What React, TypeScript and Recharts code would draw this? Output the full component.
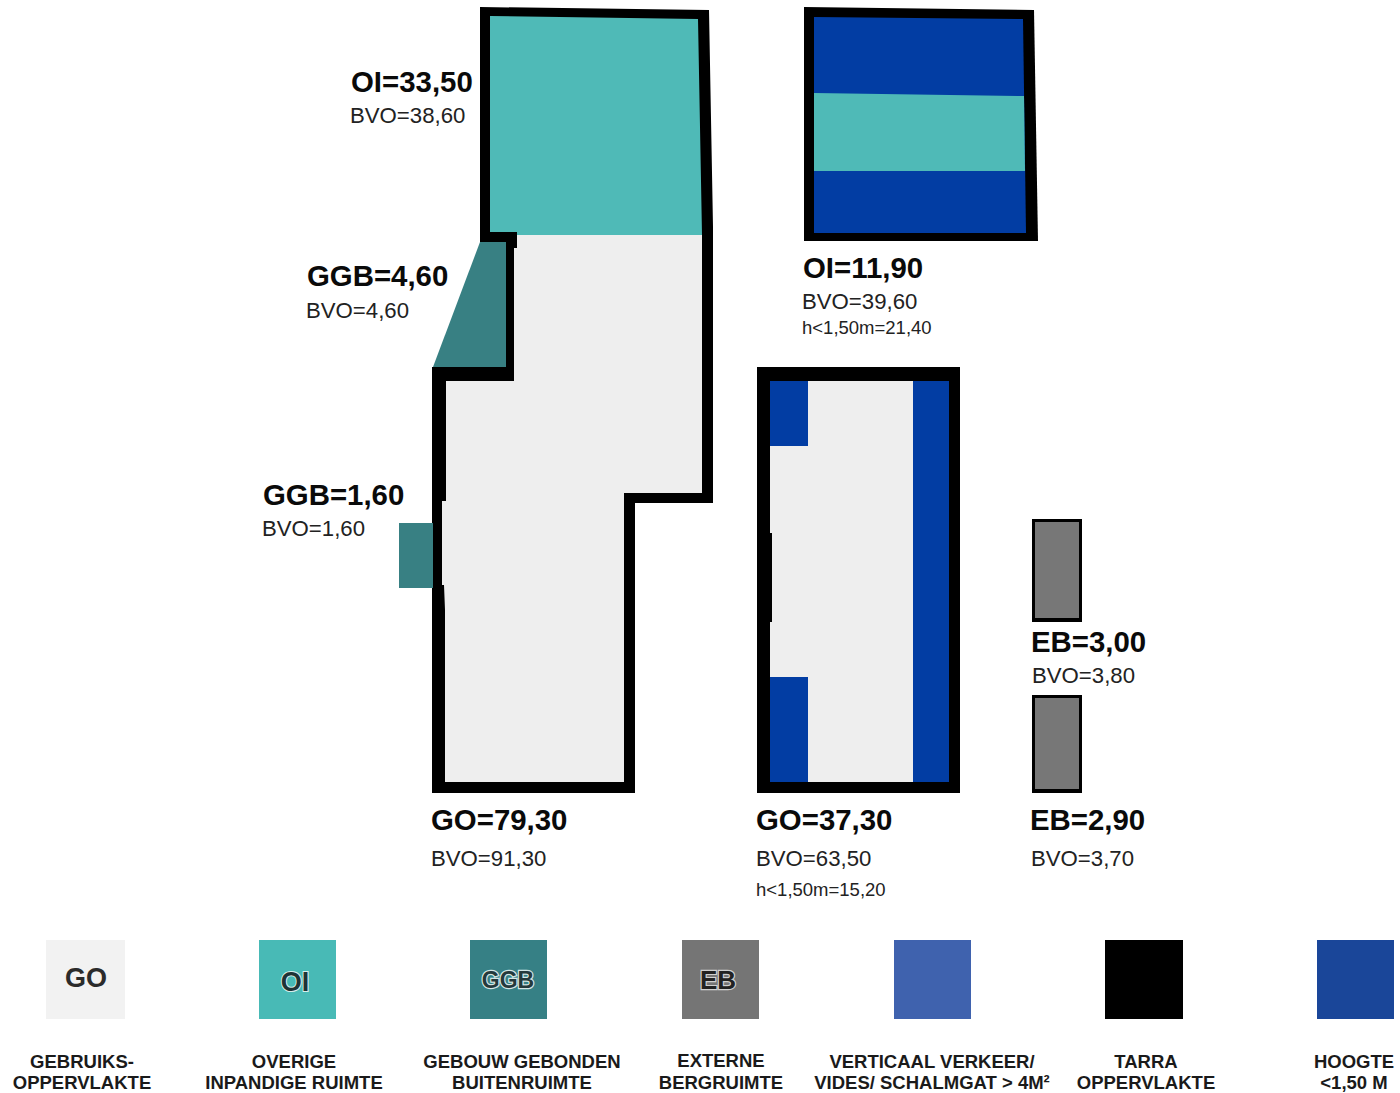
import { Scatter, ScatterChart, XAxis, YAxis } from "recharts";

type Pt = { x: number; y: number };
type Lbl = Pt & { text: string };

const pts = (list: number[][]): Pt[] => list.map(([x, y]) => ({ x, y }));
const box = (x0: number, y0: number, x1: number, y1: number) =>
  pts([[x0, y0], [x1, y0], [x1, y1], [x0, y1]]);

// plattegrond links
const wallMain = pts([[480, 7], [709, 10], [713, 227], [713, 503], [635, 503], [635, 793], [432, 793], [432, 367], [506, 367], [506, 242], [480, 242]]);
const floorMain = pts([[517, 235], [702, 235], [702, 493], [624, 493], [624, 782], [445, 782], [445, 610], [444, 585], [442, 585], [442, 501], [446, 501], [446, 381], [514, 381], [514, 248], [517, 248]]);
const oiMain = pts([[490, 16], [698, 19], [702, 235], [517, 235], [517, 232], [490, 232]]);
const ggbTop = pts([[480, 242], [506, 242], [506, 367], [433, 367]]);
const ggbSide = box(399, 523, 433, 588);

// zolder rechtsboven
const wallAttic = pts([[804, 7], [1034, 10], [1038, 241], [804, 241]]);
const lowAttic = pts([[814, 17], [1023, 19], [1026, 233], [814, 233]]);
const oiAttic = pts([[814, 93], [1024, 96], [1025, 171], [814, 171]]);

// verdieping rechts
const wallFloor = pts([[757, 367], [960, 367], [960, 793], [757, 793]]);
const floorFloor = pts([[770, 381], [949, 381], [949, 782], [770, 782], [770, 622], [772, 622], [772, 533], [770, 533]]);
const lowFloor = [box(770, 381, 808, 446), box(770, 677, 808, 782), box(913, 381, 949, 782)];

// bergingen
const wallStore = [box(1032, 519, 1082, 622), box(1032, 695, 1082, 793)];
const storeFill = [box(1035, 522, 1079, 618), box(1035, 698, 1079, 789)];

const headLabels: Lbl[] = [
  { x: 351, y: 92, text: "OI=33,50" },
  { x: 307, y: 286, text: "GGB=4,60" },
  { x: 263, y: 505, text: "GGB=1,60" },
  { x: 431, y: 830, text: "GO=79,30" },
  { x: 803, y: 278, text: "OI=11,90" },
  { x: 756, y: 830, text: "GO=37,30" },
  { x: 1031, y: 652, text: "EB=3,00" },
  { x: 1030, y: 830, text: "EB=2,90" },
];
const bvoLabels: Lbl[] = [
  { x: 350, y: 123, text: "BVO=38,60" },
  { x: 306, y: 318, text: "BVO=4,60" },
  { x: 262, y: 536, text: "BVO=1,60" },
  { x: 431, y: 866, text: "BVO=91,30" },
  { x: 802, y: 309, text: "BVO=39,60" },
  { x: 756, y: 866, text: "BVO=63,50" },
  { x: 1032, y: 683, text: "BVO=3,80" },
  { x: 1031, y: 866, text: "BVO=3,70" },
];
const lowLabels: Lbl[] = [
  { x: 802, y: 334, text: "h<1,50m=21,40" },
  { x: 756, y: 896, text: "h<1,50m=15,20" },
];

// legenda
const legendFill = ["#f2f2f2", "#48bab6", "#368085", "#757575", "#3f62ae", "#000000", "#1a4699"];
const legendLeft = [46, 259, 470, 682, 894, 1105, 1317];
const legendRight = [125, 336, 547, 759, 971, 1183, 1394];
const legendTop = 940;
const legendBottom = 1019;
const legendCodes: Lbl[] = [
  { x: 86, y: 987, text: "GO" },
  { x: 295, y: 991, text: "OI" },
  { x: 508, y: 988, text: "GGB" },
  { x: 718, y: 989, text: "EB" },
];
const legendLine1: Lbl[] = [
  { x: 82, y: 1068, text: "GEBRUIKS-" },
  { x: 294, y: 1068, text: "OVERIGE" },
  { x: 522, y: 1068, text: "GEBOUW GEBONDEN" },
  { x: 721, y: 1067, text: "EXTERNE" },
  { x: 932, y: 1068, text: "VERTICAAL VERKEER/" },
  { x: 1146, y: 1068, text: "TARRA" },
  { x: 1354, y: 1068, text: "HOOGTE" },
];
const legendLine2: Lbl[] = [
  { x: 82, y: 1089, text: "OPPERVLAKTE" },
  { x: 294, y: 1089, text: "INPANDIGE RUIMTE" },
  { x: 522, y: 1089, text: "BUITENRUIMTE" },
  { x: 721, y: 1089, text: "BERGRUIMTE" },
  { x: 932, y: 1089, text: "VIDES/ SCHALMGAT > 4M²" },
  { x: 1146, y: 1089, text: "OPPERVLAKTE" },
  { x: 1354, y: 1089, text: "<1,50 M" },
];

const BLACK = "#000000";
const FLOOR = "#eeeeee";
const TEAL = "#4fbab7";
const DARK_TEAL = "#388083";
const BLUE = "#023da3";
const GREY = "#777777";
const FONT = "'Liberation Sans', Arial, sans-serif";

const poly = (data: Pt[], fill: string, key: string) => (
  <Scatter
    key={key}
    data={data}
    fill={fill}
    isAnimationActive={false}
    shape={() => <g />}
    line={{ fill, stroke: "none" }}
  />
);

const labels = (data: Lbl[], key: string, style: any) => (
  <Scatter
    key={key}
    data={data}
    isAnimationActive={false}
    shape={(p: any) => (
      <text x={p.cx} y={p.cy} fontFamily={FONT} {...style}>
        {p.payload.text}
      </text>
    )}
  />
);

const HEAD = { fontSize: 29.4, fontWeight: 700, fill: "#0a0a0a" };
const BVO = { fontSize: 22.2, fill: "#222222" };
const LOW = { fontSize: 18.5, fill: "#222222" };
const CAPTION = { fontSize: 18.5, fontWeight: 700, fill: "#1a1a1a", textAnchor: "middle" };

export default function App() {
  return (
    <div style={{ position: "absolute", left: 0, top: 0, width: 1400, height: 1093, background: "#fff" }}>
      <ScatterChart width={1400} height={1093} margin={{ top: 0, right: 0, bottom: 0, left: 0 }}>
        <XAxis type="number" dataKey="x" domain={[0, 1400]} hide />
        <YAxis type="number" dataKey="y" domain={[0, 1093]} reversed hide />

        {poly(wallMain, BLACK, "wallMain")}
        {poly(floorMain, FLOOR, "floorMain")}
        {poly(oiMain, TEAL, "oiMain")}
        {poly(ggbTop, DARK_TEAL, "ggbTop")}
        {poly(ggbSide, DARK_TEAL, "ggbSide")}

        {poly(wallAttic, BLACK, "wallAttic")}
        {poly(lowAttic, BLUE, "lowAttic")}
        {poly(oiAttic, TEAL, "oiAttic")}

        {poly(wallFloor, BLACK, "wallFloor")}
        {poly(floorFloor, FLOOR, "floorFloor")}
        {lowFloor.map((b, i) => poly(b, BLUE, `low${i}`))}

        {wallStore.map((b, i) => poly(b, BLACK, `wallStore${i}`))}
        {storeFill.map((b, i) => poly(b, GREY, `store${i}`))}

        {legendFill.map((c, i) =>
          poly(box(legendLeft[i], legendTop, legendRight[i], legendBottom), c, `legend${i}`)
        )}

        {labels(headLabels, "head", HEAD)}
        {labels(bvoLabels, "bvo", BVO)}
        {labels(lowLabels, "low", LOW)}
        {labels(legendLine1, "line1", CAPTION)}
        {labels(legendLine2, "line2", CAPTION)}

        {labels(legendCodes.slice(0, 1), "codeGo", { fontSize: 27, fontWeight: 700, fill: "#2b2b2b", textAnchor: "middle" })}
        {labels(legendCodes.slice(1, 2), "codeOi", { fontSize: 27, fontWeight: 700, fill: "#1f3335", textAnchor: "middle", stroke: "#d5eeec", strokeWidth: 2, paintOrder: "stroke" })}
        {labels(legendCodes.slice(2, 3), "codeGgb", { fontSize: 23, fontWeight: 700, fill: "#25393b", textAnchor: "middle", stroke: "#d5e6e6", strokeWidth: 2.4, paintOrder: "stroke" })}
        {labels(legendCodes.slice(3), "codeEb", { fontSize: 26, fontWeight: 700, fill: "#222222", textAnchor: "middle", stroke: "#d0d0d0", strokeWidth: 2.4, paintOrder: "stroke" })}
      </ScatterChart>
    </div>
  );
}
